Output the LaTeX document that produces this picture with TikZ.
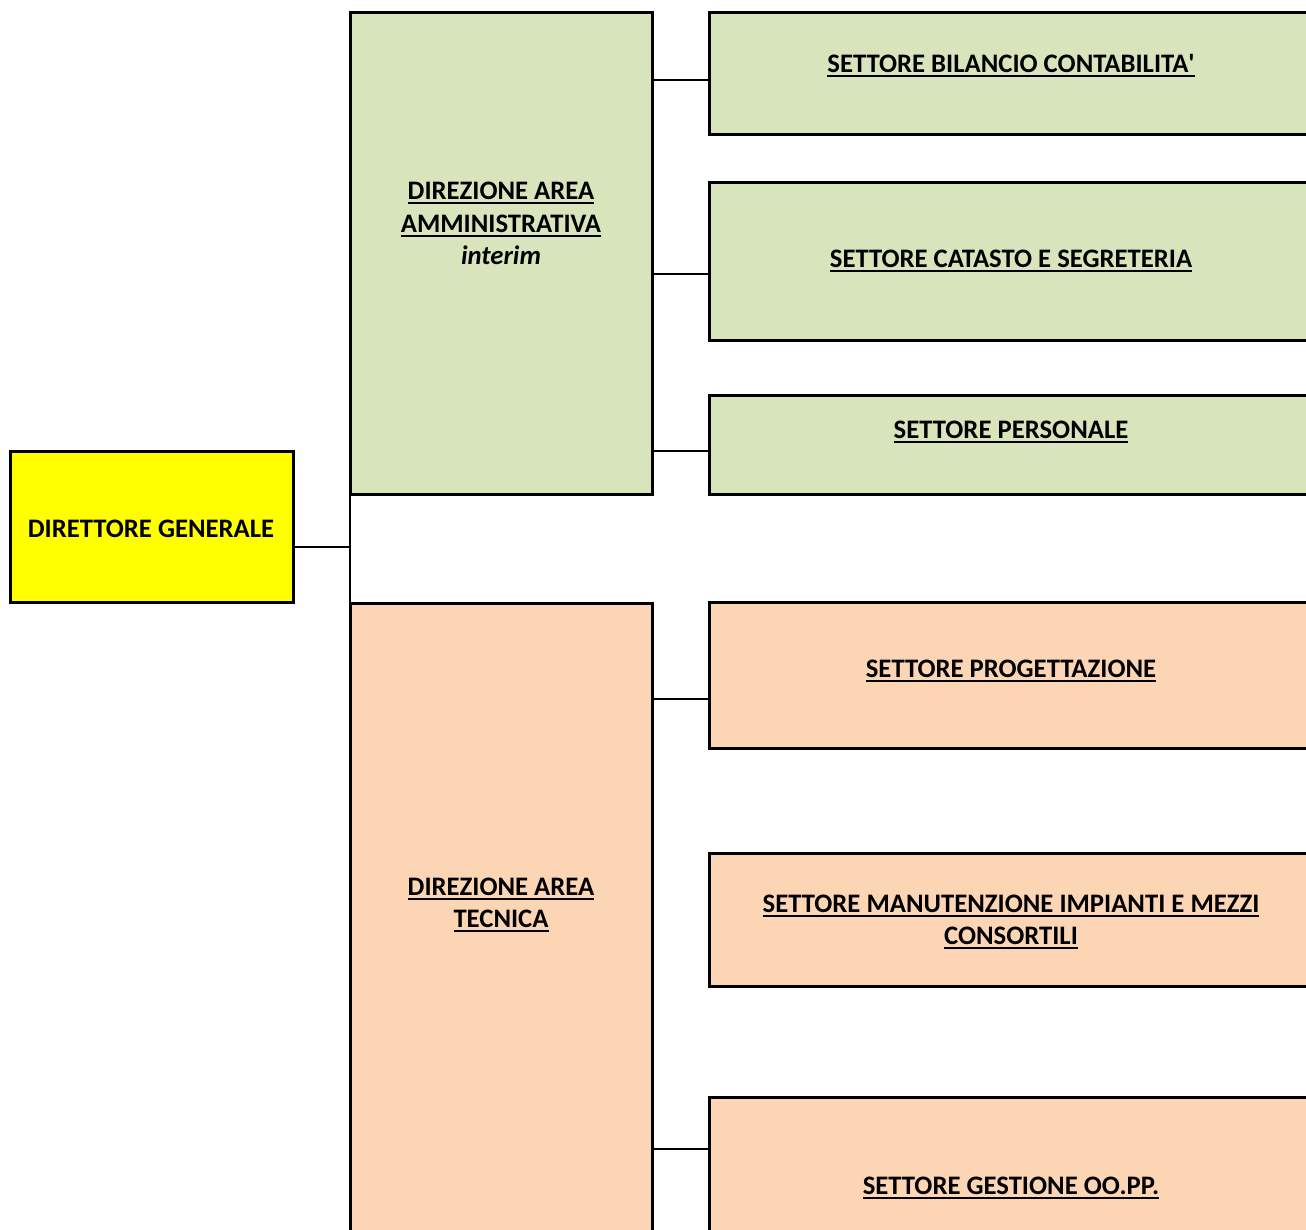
\documentclass[tikz,border=0pt]{standalone}
\usepackage{fontspec}
\setmainfont{Carlito}
\definecolor{admgreen}{HTML}{D8E4BC}
\definecolor{tecpeach}{HTML}{FCD5B4}
\definecolor{dgyellow}{HTML}{FFFF00}
\newsavebox\ulbox
\newcommand\myul[1]{\sbox\ulbox{#1}\makebox[0pt][l]{\rule[-4.5pt]{\wd\ulbox}{2pt}}\usebox\ulbox}
\tikzset{
  box/.style={draw=black, line width=3pt, rectangle, anchor=north west, inner sep=0pt, outer sep=0pt},
  lbl/.style={font=\fontsize{26.7}{32.5}\selectfont\bfseries, align=center, inner sep=0pt, anchor=center},
  conn/.style={draw=black, line width=2pt}
}
\begin{document}
\begin{tikzpicture}[x=1pt,y=-1pt]
\useasboundingbox (0,0) rectangle (1306,1230);
\clip (0,0) rectangle (1306,1230);
% boxes
\node[box, fill=dgyellow, minimum width=283pt, minimum height=151pt] (dg) at (10,451) {};
\node[box, fill=admgreen, minimum width=302.5pt, minimum height=481.5pt] (adm) at (350,12.5) {};
\node[box, fill=tecpeach, minimum width=302.5pt, minimum height=700pt] (tec) at (350,603) {};
\node[box, fill=admgreen, minimum width=606pt, minimum height=122pt] (s1) at (709,12.5) {};
\node[box, fill=admgreen, minimum width=606pt, minimum height=158pt] (s2) at (709,182.5) {};
\node[box, fill=admgreen, minimum width=606pt, minimum height=99pt] (s3) at (709,395.5) {};
\node[box, fill=tecpeach, minimum width=606pt, minimum height=146pt] (s4) at (709,602.5) {};
\node[box, fill=tecpeach, minimum width=606pt, minimum height=133pt] (s5) at (709,853.5) {};
\node[box, fill=tecpeach, minimum width=606pt, minimum height=200pt] (s6) at (709,1097.5) {};
% connectors
\coordinate (j) at (350,547);
\draw[conn] (dg.east |- j) -- (j);
\draw[conn] (adm.south west) -- (tec.north west);
\draw[conn] (adm.east |- 0,80) -- (s1.west |- 0,80);
\draw[conn] (adm.east |- 0,274.5) -- (s2.west |- 0,274.5);
\draw[conn] (adm.east |- 0,450.5) -- (s3.west |- 0,450.5);
\draw[conn] (tec.east |- 0,698.5) -- (s4.west |- 0,698.5);
\draw[conn] (tec.east |- 0,1148.5) -- (s6.west |- 0,1148.5);
% texts
\node[lbl] (tdg) at (151,529) {DIRETTORE GENERALE};
\node[lbl] (tadm) at (501,223.5) {\myul{DIREZIONE AREA}\\\myul{AMMINISTRATIVA}\\\itshape interim};
\node[lbl] (ttec) at (501,905) {\myul{DIREZIONE AREA}\\\myul{TECNICA}};
\node[lbl] (ts1) at (1011,65.5) {\myul{SETTORE BILANCIO CONTABILITA\textquotesingle}};
\node[lbl] (ts2) at (1011,260.5) {\myul{SETTORE CATASTO E SEGRETERIA}};
\node[lbl] (ts3) at (1011,431.5) {\myul{SETTORE PERSONALE}};
\node[lbl] (ts4) at (1011,670.5) {\myul{SETTORE PROGETTAZIONE}};
\node[lbl] (ts5) at (1011,922) {\myul{SETTORE MANUTENZIONE IMPIANTI E MEZZI}\\\myul{CONSORTILI}};
\node[lbl] (ts6) at (1011,1187.5) {\myul{SETTORE GESTIONE OO.PP.}};
\end{tikzpicture}
\end{document}
